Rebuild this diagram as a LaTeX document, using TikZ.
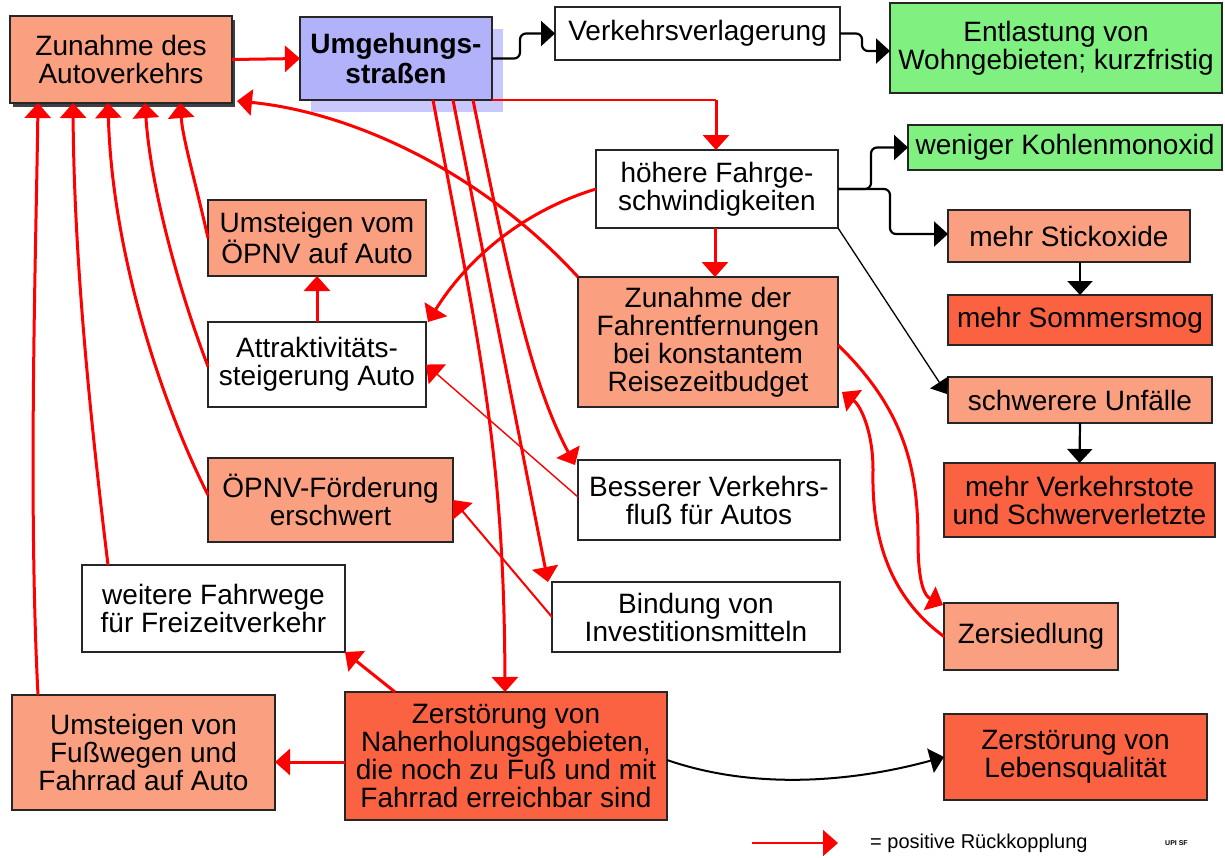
\documentclass[tikz,border=0pt]{standalone}
\usepackage{fontspec}
\setmainfont{Liberation Sans}
\usetikzlibrary{arrows.meta,calc,shadows}
\definecolor{salmon}{RGB}{250,160,128}
\definecolor{deepor}{RGB}{250,98,66}
\definecolor{lgreen}{RGB}{128,240,128}
\definecolor{lav}{RGB}{178,178,250}
\definecolor{lavshadow}{RGB}{200,200,252}
\begin{document}
\begin{tikzpicture}[x=1pt,y=-1pt,
  box/.style={draw=black!85, line width=1.5pt, inner sep=0pt, outer sep=0pt, align=center, font=\fontsize{28}{28}\selectfont},
  redarr/.style={draw=red, line width=3pt, -{Triangle[length=15pt,width=26pt]}},
  redthin/.style={draw=red, line width=1.4pt, -{Triangle[length=15pt,width=26pt]}},
  blk/.style={draw=black, line width=2.2pt, rounded corners=6pt, -{Triangle[length=14pt,width=25pt]}},
  blkthin/.style={draw=black, line width=1.3pt, -{Triangle[length=14pt,width=22pt]}}]
\useasboundingbox (0,0) rectangle (1225,857);

% nodes
\node[box, fill=salmon, minimum width=222pt, minimum height=87pt,
  drop shadow={shadow xshift=3pt, shadow yshift=-4pt, fill=black!75, opacity=1}] (zdes) at (121,59.5) {Zunahme des\\Autoverkehrs};
\node[box, fill=lav, minimum width=192pt, minimum height=83pt, font=\fontsize{28}{30}\selectfont\bfseries,
  drop shadow={shadow xshift=11pt, shadow yshift=-12pt, fill=lavshadow, opacity=1}] (umg) at (396,58.5) {Umgehungs-\\straßen};
\node[box, fill=white, minimum width=285pt, minimum height=53pt] (vv) at (697.5,33.5) {Verkehrsverlagerung};
\node[box, fill=lgreen, minimum width=332pt, minimum height=90pt] (entl) at (1056,48) {Entlastung von\\Wohngebieten; kurzfristig};
\node[box, fill=white, minimum width=242pt, minimum height=78pt] (hoeh) at (717,189) {höhere Fahrge-\\schwindigkeiten};
\node[box, fill=lgreen, minimum width=314pt, minimum height=45pt] (koh) at (1065,147.5) {weniger Kohlenmonoxid};
\node[box, fill=salmon, minimum width=242pt, minimum height=52pt] (stick) at (1069,236) {mehr Stickoxide};
\node[box, fill=deepor, minimum width=264pt, minimum height=50pt] (smog) at (1080,320) {mehr Sommersmog};
\node[box, fill=salmon, minimum width=264pt, minimum height=46pt] (unf) at (1080,400) {schwerere Unfälle};
\node[box, fill=deepor, minimum width=271pt, minimum height=74pt] (tote) at (1079.5,500) {mehr Verkehrstote\\und Schwerverletzte};
\node[box, fill=salmon, minimum width=174pt, minimum height=67pt] (zers) at (1031,636.5) {Zersiedlung};
\node[box, fill=deepor, minimum width=263pt, minimum height=86pt] (leben) at (1075.5,757) {Zerstörung von\\Lebensqualität};
\node[box, fill=salmon, minimum width=218pt, minimum height=76pt] (oepnvauto) at (317,238) {Umsteigen vom\\ÖPNV auf Auto};
\node[box, fill=white, minimum width=218pt, minimum height=85pt] (attr) at (317,364.5) {Attraktivitäts-\\steigerung Auto};
\node[box, fill=salmon, minimum width=260pt, minimum height=130pt] (fahrentf) at (708,342) {Zunahme der\\Fahrentfernungen\\bei konstantem\\Reisezeitbudget};
\node[box, fill=salmon, minimum width=245pt, minimum height=84pt] (oepnvf) at (330.5,500) {ÖPNV-Förderung\\erschwert};
\node[box, fill=white, minimum width=262pt, minimum height=80pt] (bess) at (709,500) {Besserer Verkehrs-\\fluß für Autos};
\node[box, fill=white, minimum width=263pt, minimum height=87pt] (weit) at (213.5,608.5) {weitere Fahrwege\\für Freizeitverkehr};
\node[box, fill=white, minimum width=288pt, minimum height=70pt] (bind) at (696,617) {Bindung von\\Investitionsmitteln};
\node[box, fill=salmon, minimum width=263pt, minimum height=115pt] (fuss) at (143.5,752.5) {Umsteigen von\\Fußwegen und\\Fahrrad auf Auto};
\node[box, fill=deepor, minimum width=322pt, minimum height=128pt] (nah) at (506,756) {Zerstörung von\\Naherholungsgebieten,\\die noch zu Fuß und mit\\Fahrrad erreichbar sind};

% black connectors
\draw[blk] (umg.east) -- ++(28,0) |- (vv.west);
\draw[blk] (vv.east) -- ++(22,0) |- ($(entl.west)+(0,3)$);
\draw[blk] (hoeh.east) -- ++(33,0) |- (koh.west);
\draw[blk] (hoeh.east) -- ++(52,0) |- ($(stick.west)+(0,-2)$);
\draw[blkthin] (hoeh.south east) -- ($(unf.west)+(-1,-6)$);
\draw[blk] (stick.south -| smog.north) -- (smog.north);
\draw[blk] (unf.south) -- (tote.north);
\draw[black, line width=2pt, -{Triangle[length=14pt,width=25pt]}] ($(nah.east)+(0,4)$) .. controls (760,792) and (860,780) .. (leben.west);

% red connectors
\draw[redarr] (zdes.east) -- (umg.west);
\coordinate (c1) at (hoeh.north |- umg.south east);
\draw[red, line width=1.4pt] (umg.south east) -- ($(c1)+(-1,0)$);
\draw[redarr] ($(c1)+(-1,0)$) -- ($(hoeh.north)+(-1,0)$);
\draw[redarr] (attr.north) -- (oepnvauto.south);
\draw[redarr] ($(hoeh.south)+(-2,0)$) -- ($(hoeh.south |- fahrentf.north)+(-2,0)$);

\draw[redarr] ($(fuss.north west)+(26,0)$) .. controls (28,500) and (36,250) .. ($(zdes.south west)+(28,0)$);
\draw[redarr] ($(weit.north west)+(26,0)$) .. controls (88,400) and (74,250) .. ($(zdes.south west)+(63,0)$);
\draw[redarr] ($(oepnvf.west)+(0,-5)$) .. controls (160,400) and (112,250) .. ($(zdes.south west)+(98,0)$);
\draw[redarr] ($(attr.west)+(0,2)$) .. controls (175,280) and (150,180) .. ($(zdes.south west)+(135,0)$);
\draw[redarr] (oepnvauto.west) .. controls (195,180) and (183,140) .. ($(zdes.south west)+(170,0)$);
\draw[redarr] (fahrentf.north west) .. controls (480,170) and (350,112) .. ($(zdes.south east)+(5,-2)$);

\draw[redarr] (hoeh.west) .. controls (520,212) and (465,262) .. ($(attr.north east)+(2,0)$);
\draw[redthin] ($(bess.west)+(0,-3)$) -- (attr.east);
\draw[red, line width=2pt, -{Triangle[length=15pt,width=26pt]}] (bind.west) -- (oepnvf.east);
\draw[redarr] ($(nah.north west)+(50,0)$) -- (weit.south east);
\draw[redarr] ($(nah.west)+(0,6)$) -- ($(fuss.east)+(0,9.5)$);

\draw[redarr] ($(umg.south west)+(133,0)$) .. controls (480,350) and (504,450) .. ($(nah.north west)+(160,0)$);
\draw[redarr] ($(umg.south west)+(153,0)$) -- ($(bind.north west)+(-4,0)$);
\draw[redarr] ($(umg.south west)+(173,0)$) .. controls (510,280) and (530,380) .. ($(bess.north west)+(-3,5)$);

\draw[redarr] ($(fahrentf.east)+(0,3)$) .. controls (905,410) and (918,470) .. (918,540) .. controls (918,585) and (925,596) .. ($(zers.north west)+(-1,2)$);
\draw[redarr] (zers.west) .. controls (880,590) and (872,520) .. (873,470) .. controls (873,430) and (860,405) .. ($(fahrentf.south east)+(4,-15)$);

% legend
\coordinate (l1) at (752,843);
\coordinate (l2) at (838,843);
\draw[red, line width=1.5pt, -{Triangle[length=15pt,width=26pt]}] (l1) -- (l2);
\node[anchor=west, inner sep=0pt, font=\fontsize{20}{20}\selectfont] (leg) at (870,843) {= positive Rückkopplung};
\node[anchor=west, inner sep=0pt, font=\fontsize{7}{7}\selectfont\bfseries] (logo) at (1165,843) {UPI SF};
\end{tikzpicture}
\end{document}
